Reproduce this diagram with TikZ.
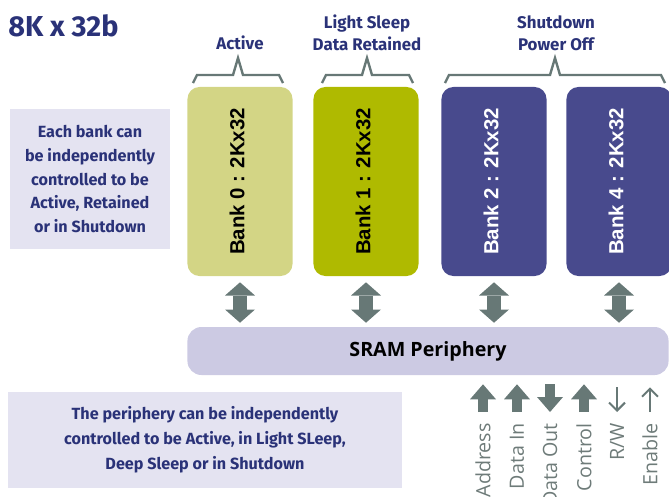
\documentclass[tikz,border=0pt]{standalone}
\usepackage{fontspec}
\setmainfont{Fira Sans}
\newfontfamily\bankfont{Liberation Sans}
\newfontfamily\periphfont{Open Sans}
\usepackage{tikz}
\usetikzlibrary{arrows.meta, positioning}

\definecolor{navy}{HTML}{2A3278}
\definecolor{lavender}{HTML}{E4E3F1}
\definecolor{bankactive}{HTML}{D3D585}
\definecolor{bankretain}{HTML}{AFBA00}
\definecolor{bankoff}{HTML}{484A8D}
\definecolor{periph}{HTML}{CCCAE3}
\definecolor{arrowgray}{HTML}{677876}
\definecolor{siggray}{HTML}{6E7B79}

\begin{document}
\begin{tikzpicture}[x=0.025cm,y=-0.025cm,
    bank/.style={rounded corners=0.3cm,minimum width=2.625cm,minimum height=4.725cm,inner sep=0pt},
    bank label/.style={rotate=90,font=\bankfont\bfseries\fontsize{14.5}{17}\selectfont},
    info box/.style={fill=lavender,align=center,text=navy,inner sep=0pt,font=\bfseries\fontsize{11.5}{16.8}\selectfont},
    state label/.style={text=navy,align=center,font=\bfseries\fontsize{12}{15.6}\selectfont},
    brace/.style={draw=arrowgray,line width=0.06cm,miter limit=10},
    bus/.style={draw=arrowgray,line width=0.35cm,shorten <=0.15cm,shorten >=0.1cm,
       {Triangle[width=0.75cm,length=0.33cm,line width=0pt]}-{Triangle[width=0.75cm,length=0.33cm,line width=0pt]}},
    sig label/.style={rotate=90,anchor=east,inner sep=0pt,text=siggray,font=\periphfont\fontsize{14}{16}\selectfont},
    big sig/.style={draw=arrowgray,line width=0.25cm,-{Triangle[width=0.65cm,length=0.375cm,line width=0pt]}},
    thin sig/.style={draw=arrowgray,line width=0.05cm,-{Straight Barb[width=0.4cm,length=0.2cm]}}]

 \useasboundingbox (0,0) rectangle (669,496);

%Title
 \node[anchor=west,inner sep=0pt,text=navy,font=\bfseries\fontsize{20.5}{24}\selectfont] (title) at (8,26) {8K x 32b};

%Banks
 \foreach \x/\n/\col/\txt in {240/0/bankactive/black, 366/1/bankretain/black, 494/2/bankoff/white, 619/4/bankoff/white}
   {\node[bank,fill=\col] (bank\n) at (\x,181.5) {};
    \node[bank label,text=\txt] (banklabel\n) at ([xshift=-0.07cm]bank\n.center) {Bank \n\ : 2Kx32};}

%Braces and states
 \foreach \l/\m/\r in {193/238/283, 322/367/413, 445/555/665}
    \draw[brace] (\l,83) -- (\l+4,75) -- (\m-5,75) -- (\m,58) -- (\m+5,75) -- (\r-4,75) -- (\r,83);

 \node[state label] (active) at (240,43) {Active};
 \node[state label] (retained) at (367,33) {Light Sleep\\Data Retained};
 \node[state label] (shutdown) at (556,33) {Shutdown\\Power Off};

%Info boxes
 \node[info box,minimum width=4cm,minimum height=3.5cm] (bankinfo) at (90,179)
    {Each bank can\\be independently\\controlled to be\\Active, Retained\\or in Shutdown};
 \node[info box,minimum width=9.85cm,minimum height=2.4cm,font=\bfseries\fontsize{11.5}{17.8}\selectfont] (periphinfo) at (205,440)
    {The periphery can be independently\\controlled to be Active, in Light SLeep,\\Deep Sleep or in Shutdown};

%Periphery
 \node[fill=periph,rounded corners=0.35cm,minimum width=12.025cm,minimum height=1.2cm,
       font=\periphfont\bfseries\fontsize{14}{16}\selectfont] (per) at (428,351) {SRAM Periphery};

 \foreach \n in {0,1,2,4}
    \draw[bus] (bank\n.south) -- (bank\n.south |- per.north);

%Signals
 \foreach \x/\name/\txt in {483/addr/Address, 517/din/Data In, 550/dout/Data Out, 584/ctrl/Control, 617/rw/{R/W}, 650/en/Enable}
    \node[sig label] (\name) at (\x,423) {\txt};

 \foreach \name in {addr,din,ctrl}
    \draw[big sig,shorten <=0.275cm,shorten >=0.225cm] (\name.east) -- (\name.east |- per.south);
 \draw[big sig,shorten <=0.225cm,shorten >=0.275cm] (dout.east |- per.south) -- (dout.east);
 \draw[thin sig,shorten <=0.3cm,shorten >=0.275cm] (rw.east |- per.south) -- (rw.east);
 \draw[thin sig,shorten <=0.275cm,shorten >=0.3cm] (en.east) -- (en.east |- per.south);

\end{tikzpicture}
\end{document}
